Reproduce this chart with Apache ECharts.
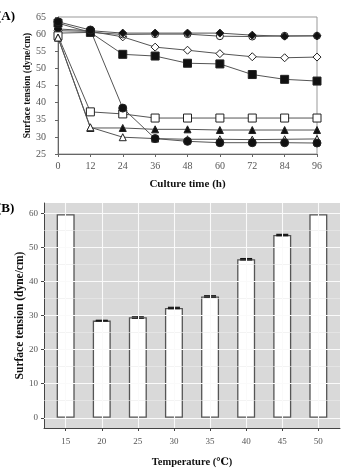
<!DOCTYPE html>
<html>
<head>
<meta charset="utf-8">
<script src="https://cdn.jsdelivr.net/npm/echarts@6/dist/echarts.min.js"></script>
<style>
  html, body { margin: 0; padding: 0; background: #fff; }
  #chart { width: 347px; height: 469px; }
</style>
</head>
<body>
<div id="chart"></div>
<script>
// panel A: surface tension vs culture time, one line per temperature
const hours = [0, 12, 24, 36, 48, 60, 72, 84, 96];
const t15 = [61.5, 61.0, 60.3, 60.3, 60.3, 60.3, 59.7, 59.4, 59.5];
const t20 = [63.6, 61.2, 38.4, 29.5, 28.7, 28.3, 28.3, 28.3, 28.2];
const t25 = [59.0, 32.8, 29.9, 29.5, 29.3, 29.3, 29.2, 29.3, 29.4];
const t30 = [59.0, 32.6, 32.6, 32.2, 32.2, 32.0, 32.0, 32.0, 32.0];
const t35 = [59.5, 37.3, 36.7, 35.5, 35.5, 35.5, 35.5, 35.5, 35.5];
const t40 = [63.2, 60.5, 54.1, 53.6, 51.5, 51.3, 48.2, 46.8, 46.3];
const t45 = [61.0, 60.8, 59.2, 56.2, 55.3, 54.3, 53.4, 53.1, 53.3];
const t50 = [60.3, 60.5, 59.9, 60.0, 60.0, 59.4, 59.3, 59.5, 59.5];

// panel B: surface tension at 96 h by temperature
const temps = [15, 20, 25, 30, 35, 40, 45, 50];
const tension = [59.7, 28.5, 29.5, 32.2, 35.6, 46.5, 53.6, 59.7];
const tensionErr = [0, 0.1, 0.3, 0.2, 0.2, 0.2, 0.2, 0];
const yTicksB = [0, 10, 20, 30, 40, 50, 60];
const yMinorB = [5, 15, 25, 35, 45, 55];

const serif = '"Liberation Serif", "DejaVu Serif", serif';

function lineSeries(name, data, symbol, filled, size) {
  return {
    name: name,
    type: 'line',
    xAxisIndex: 0,
    yAxisIndex: 0,
    data: hours.map((h, i) => [h, data[i]]),
    symbol: symbol,
    symbolSize: size,
    lineStyle: { color: '#555', width: 1 },
    itemStyle: {
      color: filled ? '#111' : '#fff',
      borderColor: '#222',
      borderWidth: 1
    },
    z: 3
  };
}

const chart = echarts.init(document.getElementById('chart'));

chart.setOption({
  animation: false,
  graphic: [
    { type: 'text', left: -3, top: 10, style: { text: '(A)', font: 'bold 13px ' + serif, fill: '#000' } },
    { type: 'text', left: -3, top: 202, style: { text: '(B)', font: 'bold 13px ' + serif, fill: '#000' } }
  ],
  grid: [
    { left: 58, right: 30, top: 17, bottom: 315, show: true, borderColor: '#999', borderWidth: 1, backgroundColor: '#fff' },
    { left: 44, right: 7, top: 203, bottom: 37, show: true, borderWidth: 0, backgroundColor: '#d9d9d9' }
  ],
  xAxis: [
    {
      gridIndex: 0, type: 'value', min: 0, max: 96, interval: 12,
      name: 'Culture time (h)', nameLocation: 'middle', nameGap: 25,
      nameTextStyle: { fontFamily: serif, fontWeight: 'bold', fontSize: 11, color: '#111' },
      axisLine: { lineStyle: { color: '#666' } },
      axisTick: { length: 3, lineStyle: { color: '#666' } },
      axisLabel: { fontFamily: serif, fontSize: 10, color: '#555', margin: 7 },
      splitLine: { show: false }
    },
    {
      gridIndex: 1, type: 'value', min: 12, max: 53,
      name: 'Temperature (℃)', nameLocation: 'middle', nameGap: 29,
      nameTextStyle: { fontFamily: serif, fontWeight: 'bold', fontSize: 10.5, color: '#111' },
      axisLine: { onZero: false, lineStyle: { color: '#444' } },
      axisTick: { length: 3, customValues: temps, lineStyle: { color: '#444' } },
      axisLabel: { fontFamily: serif, fontSize: 9, color: '#555', margin: 9, customValues: temps },
      splitLine: { show: false }
    }
  ],
  yAxis: [
    {
      gridIndex: 0, type: 'value', min: 25, max: 65, interval: 5,
      name: 'Surface tension (dyne/cm)', nameLocation: 'middle', nameGap: 25, nameMoveOverlap: false,
      nameTextStyle: { fontFamily: serif, fontWeight: 'bold', fontSize: 9.5, color: '#111' },
      axisLine: { show: true, lineStyle: { color: '#666' } },
      axisTick: { show: true, length: 3, lineStyle: { color: '#666' } },
      axisLabel: { fontFamily: serif, fontSize: 10, color: '#555', margin: 12 },
      splitLine: { show: false }
    },
    {
      gridIndex: 1, type: 'value', min: -3, max: 63,
      name: 'Surface tension (dyne/cm)', nameLocation: 'middle', nameGap: 18, nameMoveOverlap: false,
      nameTextStyle: { fontFamily: serif, fontWeight: 'bold', fontSize: 11.5, color: '#111' },
      axisLine: { show: true, onZero: false, lineStyle: { color: '#444' } },
      axisTick: { show: true, length: 3, customValues: yTicksB, lineStyle: { color: '#444' } },
      axisLabel: { fontFamily: serif, fontSize: 9, color: '#555', margin: 6, customValues: yTicksB },
      splitLine: { show: false }
    }
  ],
  series: [
    lineSeries('45', t45, 'diamond', false, 8),
    lineSeries('50', t50, 'circle', false, 7),
    lineSeries('15', t15, 'diamond', true, 8),
    lineSeries('40', t40, 'rect', true, 8),
    lineSeries('35', t35, 'rect', false, 8),
    lineSeries('30', t30, 'triangle', true, 7),
    lineSeries('25', t25, 'triangle', false, 7),
    lineSeries('20', t20, 'circle', true, 8),
    {
      // background grid lines of panel B
      type: 'line', xAxisIndex: 1, yAxisIndex: 1, data: [], silent: true, z: 1,
      markLine: {
        silent: true, symbol: 'none', label: { show: false },
        data: []
          .concat(yMinorB.map(v => ({ yAxis: v, lineStyle: { color: '#ebebeb', width: 0.6, type: 'solid' } })))
          .concat(yTicksB.map(v => ({ yAxis: v, lineStyle: { color: '#fafafa', width: 1.1, type: 'solid' } })))
          .concat(temps.map(v => ({ xAxis: v, lineStyle: { color: '#fafafa', width: 1.1, type: 'solid' } })))
      }
    },
    {
      type: 'bar', xAxisIndex: 1, yAxisIndex: 1, barWidth: 18, z: 3,
      data: temps.map((t, i) => [t, tension[i]]),
      itemStyle: { color: '#fff', borderColor: '#555', borderWidth: 1.3 }
    },
    {
      type: 'custom', xAxisIndex: 1, yAxisIndex: 1, z: 4,
      data: temps.map((t, i) => [t, tension[i], tensionErr[i]]),
      renderItem: function (params, api) {
        const x = api.value(0), v = api.value(1), e = api.value(2);
        if (!e) return null;
        const hi = api.coord([x, v + e]);
        const lo = api.coord([x, v - e]);
        const w = 6;
        const st = { stroke: '#111', lineWidth: 1.2 };
        return {
          type: 'group',
          children: [
            { type: 'line', shape: { x1: hi[0] - w, y1: hi[1], x2: hi[0] + w, y2: hi[1] }, style: st },
            { type: 'line', shape: { x1: lo[0] - w, y1: lo[1], x2: lo[0] + w, y2: lo[1] }, style: st },
            { type: 'line', shape: { x1: hi[0], y1: hi[1], x2: lo[0], y2: lo[1] }, style: st }
          ]
        };
      }
    }
  ]
});
</script>
</body>
</html>
